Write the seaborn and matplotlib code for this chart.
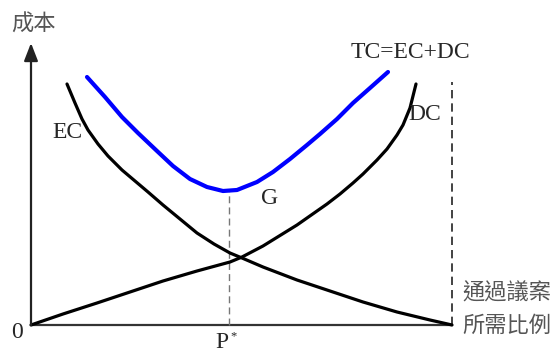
import matplotlib
matplotlib.use('Agg')
import matplotlib.pyplot as plt
import seaborn as sns

# ─────────────────────────────────────────────────────────────────
#  Curves  (x: share of votes needed, y: cost)
# ─────────────────────────────────────────────────────────────────
ec_x = [36, 44, 51, 57, 67, 77, 91, 104, 117, 132, 149, 166, 183, 199, 211,
        232, 266, 299, 332, 366, 399, 421]
ec_y = [241, 222, 206, 195, 181, 169, 155, 144, 133, 120, 106, 92, 81, 72, 67,
        58, 45, 34, 23, 13, 5, 0]

dc_x = [0, 32, 66, 99, 132, 166, 199, 211, 232, 266, 296, 309, 322, 332,
        346, 356, 366, 372, 379, 385]
dc_y = [0, 11, 22, 33, 44, 54, 63, 68, 79, 100, 121, 131, 142, 151,
        165, 176, 190, 200, 217, 241]

tc_x = [56, 74, 91, 107, 126, 142, 159, 176, 192, 206, 226, 242, 259, 276,
        289, 306, 322, 339, 357]
tc_y = [248, 228, 208, 192, 174, 159, 146, 138, 134, 135, 143, 153, 166, 180,
        191, 206, 222, 237, 253]

p_star = 198       # optimum share, under the TC minimum
tc_min = 134
p_max = 421        # right end of the axis (100 %)
y_top = 282

curve_labels = ["EC", "DC", "TC=EC+DC", "G"]
y_label = "成本"
x_label = ["通過議案", "所需比例"]

sns.set_theme(style="white")
plt.rcParams['font.family'] = ['Liberation Serif', 'DejaVu Serif']
CJK = ['Noto Sans CJK TC', 'DejaVu Sans']

fig = plt.figure(figsize=(5.59, 3.51), dpi=100)
ax = fig.add_axes([0, 0, 1, 1])
ax.set_xlim(-31, 528)
ax.set_ylim(-26, 325)
ax.axis('off')

# axes
ax.annotate("", xy=(0, y_top), xytext=(0, 0),
            arrowprops=dict(arrowstyle='-|>,head_length=0.9,head_width=0.35',
                            color='#222222', lw=1.6, shrinkA=0, shrinkB=0))
ax.plot([0, p_max], [0, 0], color='#333333', lw=1.6, solid_capstyle='butt')

# guide lines
ax.plot([p_star, p_star], [0, tc_min], color='#777777', lw=1.0, ls=(0, (5, 3)))
ax.plot([p_max, p_max], [0, 243], color='#222222', lw=1.2, ls=(0, (5, 3)))

# curves
sns.lineplot(x=ec_x, y=ec_y, ax=ax, color='black', lw=2.3, sort=False)
sns.lineplot(x=dc_x, y=dc_y, ax=ax, color='black', lw=2.3, sort=False)
sns.lineplot(x=tc_x, y=tc_y, ax=ax, color='#0000ff', lw=3.0, sort=False)

# labels
fs = 17
ax.text(36, 192, curve_labels[0], fontsize=fs, ha='center', va='center')
ax.text(394, 210, curve_labels[1], fontsize=fs, ha='center', va='center')
ax.text(379, 273, curve_labels[2], fontsize=fs, ha='center', va='center')
ax.text(239, 127, curve_labels[3], fontsize=fs, ha='center', va='center')
ax.text(-14, -7, "0", fontsize=fs, ha='center', va='center')
ax.text(191, -17, "P", fontsize=fs, ha='center', va='center')
ax.text(203, -11, "*", fontsize=9, ha='center', va='center')

ax.text(2, 301, y_label, fontsize=16, ha='center', va='center',
        color='#555555', family=CJK)
ax.text(476, 32, x_label[0], fontsize=16, ha='center', va='center',
        color='#555555', family=CJK)
ax.text(476, 0, x_label[1], fontsize=16, ha='center', va='center',
        color='#555555', family=CJK)

fig.savefig("out.png", dpi=100)
plt.close(fig)
